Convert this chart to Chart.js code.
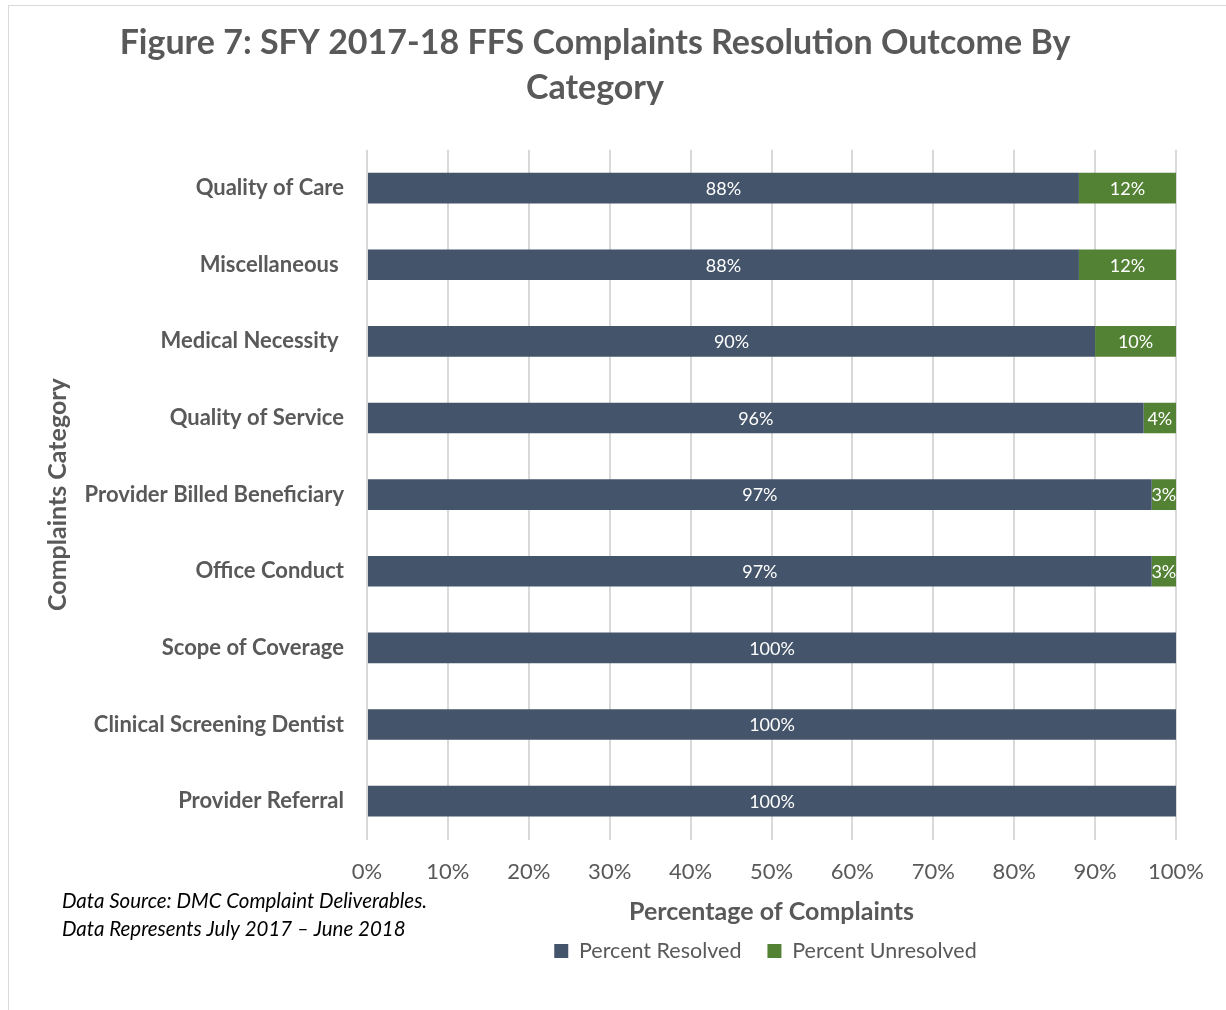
<!DOCTYPE html>
<html>
<head>
<meta charset="utf-8">
<script src="https://cdn.jsdelivr.net/npm/chart.js@4.4.1/dist/chart.umd.min.js"></script>
<style>
  html, body { margin: 0; padding: 0; background: #fff; }
  #wrap { position: relative; width: 1226px; height: 1010px; }
  #frame { position: absolute; left: 8px; top: 5px; right: -2px; bottom: -2px; border-left: 1px solid #d9d9d9; border-top: 1px solid #d9d9d9; }
  canvas { position: absolute; left: 0; top: 0; }
</style>
</head>
<body>
<div id="wrap">
  <div id="frame"></div>
  <canvas id="outcomeChart" width="1226" height="1010"></canvas>
</div>
<script>
const categories = [
  'Quality of Care',
  'Miscellaneous ',
  'Medical Necessity ',
  'Quality of Service',
  'Provider Billed Beneficiary',
  'Office Conduct',
  'Scope of Coverage',
  'Clinical Screening Dentist',
  'Provider Referral'
];
const percentResolved = [88, 88, 90, 96, 97, 97, 100, 100, 100];
const percentUnresolved = [12, 12, 10, 4, 3, 3, 0, 0, 0];
const xTicks = [0, 10, 20, 30, 40, 50, 60, 70, 80, 90, 100];

const notes = [
  'Data Source: DMC Complaint Deliverables.',
  'Data Represents July 2017 \u2013 June 2018'
];

const FONT = 'Lato, "Open Sans", sans-serif';
const GREY = '#595959';
const LEGEND_FONT = 21.5;
const LEGEND_PAD = 26;

// White value labels centred inside each bar segment
const barLabels = {
  id: 'barLabels',
  afterDatasetsDraw(chart) {
    const ctx = chart.ctx;
    ctx.save();
    ctx.font = '18px ' + FONT;
    ctx.fillStyle = '#ffffff';
    ctx.textAlign = 'center';
    ctx.textBaseline = 'middle';
    chart.data.datasets.forEach((ds, i) => {
      chart.getDatasetMeta(i).data.forEach((bar, j) => {
        const v = ds.data[j];
        if (!v) return;
        const cx = (bar.x + bar.base) / 2;
        ctx.fillText(v + '%', cx, bar.y + 1);
      });
    });
    ctx.restore();
  }
};

// Source notes in the lower left corner
const sourceNotes = {
  id: 'sourceNotes',
  afterDraw(chart) {
    const ctx = chart.ctx;
    ctx.save();
    ctx.font = 'italic 20.5px ' + FONT;
    ctx.fillStyle = '#000000';
    ctx.textAlign = 'left';
    ctx.textBaseline = 'middle';
    notes.forEach((t, i) => ctx.fillText(t, 62, 901 + i * 28));
    ctx.restore();
  }
};

// Centre title and legend over the plot area like the original
const placeBlocks = {
  id: 'placeBlocks',
  afterLayout(chart) {
    const area = chart.chartArea;
    if (chart.titleBlock) {
      chart.titleBlock.left = 0;
      chart.titleBlock.right = 1190;
    }
    if (chart.legend) {
      const h = chart.legend.height;
      chart.legend.left = area.left - 6;
      chart.legend.right = area.right - 6;
      chart.legend.top = 951 - LEGEND_PAD - LEGEND_FONT / 2;
      chart.legend.bottom = chart.legend.top + h;
    }
  }
};

const ctx = document.getElementById('outcomeChart').getContext('2d');
new Chart(ctx, {
  type: 'bar',
  data: {
    labels: categories,
    datasets: [
      {
        label: 'Percent Resolved',
        data: percentResolved,
        backgroundColor: '#44546a',
        categoryPercentage: 0.8,
        barPercentage: 0.5
      },
      {
        label: 'Percent Unresolved',
        data: percentUnresolved,
        backgroundColor: '#548235',
        categoryPercentage: 0.8,
        barPercentage: 0.5
      }
    ]
  },
  options: {
    indexAxis: 'y',
    responsive: false,
    animation: false,
    layout: { padding: { left: 0, right: 50, top: 0, bottom: 13 } },
    plugins: {
      title: {
        display: true,
        text: ['Figure 7: SFY 2017-18 FFS Complaints Resolution Outcome By', 'Category'],
        color: GREY,
        font: { family: FONT, size: 34, weight: 'bold', lineHeight: 1.32 },
        padding: { top: 21, bottom: 39 }
      },
      legend: {
        display: true,
        position: 'bottom',
        labels: {
          color: GREY,
          font: { family: FONT, size: LEGEND_FONT },
          boxWidth: 14,
          boxHeight: 14,
          padding: LEGEND_PAD
        }
      },
      tooltip: { enabled: false }
    },
    scales: {
      x: {
        stacked: true,
        min: 0,
        max: 100,
        afterBuildTicks: (scale) => {
          scale.ticks = xTicks.map(v => ({ value: v }));
        },
        afterFit: (scale) => {
          scale.height = 100;
        },
        grid: { color: '#d9d9d9', lineWidth: 2, drawTicks: false },
        border: { display: false },
        ticks: {
          color: GREY,
          font: { family: FONT, size: 22 },
          padding: 19,
          callback: (v) => v + '%'
        },
        title: {
          display: true,
          text: 'Percentage of Complaints',
          color: GREY,
          font: { family: FONT, size: 25, weight: 'bold', lineHeight: 1.2 },
          padding: { top: 0, bottom: 13 }
        }
      },
      y: {
        stacked: true,
        afterFit: (scale) => {
          scale.width = 367;
        },
        grid: { display: false, drawTicks: false },
        border: { display: false },
        ticks: {
          color: GREY,
          font: { family: FONT, size: 22, weight: 'bold' },
          padding: 23
        },
        title: {
          display: true,
          text: 'Complaints Category',
          color: GREY,
          font: { family: FONT, size: 25, weight: 'bold', lineHeight: 1.2 },
          padding: { top: 43, bottom: 0 }
        }
      }
    }
  },
  plugins: [barLabels, sourceNotes, placeBlocks]
});
</script>
</body>
</html>
